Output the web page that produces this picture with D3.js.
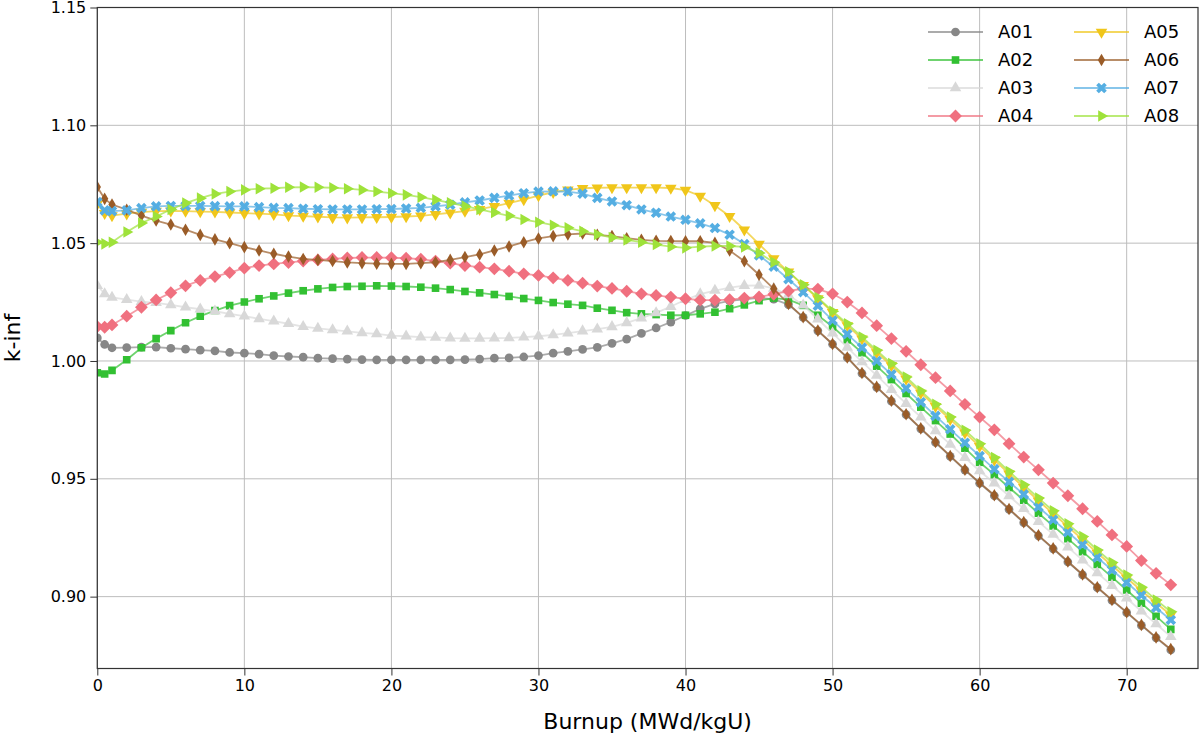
<!DOCTYPE html>
<html lang="en">
<head>
    <meta charset="UTF-8">
    <title>k-inf vs burnup</title>
    <style>
        body { margin: 0; background: #fff; }
        svg { display: block; font-family: 'DejaVu Sans', sans-serif; }
    </style>
</head>
<body>
    <div id="chart-wrapper"></div>

    <script src="https://d3js.org/d3.v7.min.js"></script>
    <script>
        // burnup points (MWd/kgU)
        const burnup = [0, 0.5, 1,
            2, 3, 4, 5, 6, 7, 8, 9, 10, 11,
            12, 13, 14, 15, 16, 17, 18, 19, 20, 21,
            22, 23, 24, 25, 26, 27, 28, 29, 30, 31,
            32, 33, 34, 35, 36, 37, 38, 39, 40, 41,
            42, 43, 44, 45, 46, 47, 48, 49, 50, 51,
            52, 53, 54, 55, 56, 57, 58, 59, 60, 61,
            62, 63, 64, 65, 66, 67, 68, 69, 70, 71,
            72, 73]

        const kA01 = [1.0098, 1.0070, 1.0056,
            1.0057, 1.0059, 1.0059, 1.0054, 1.0050, 1.0046, 1.0043, 1.0036, 1.0033, 1.0029,
            1.0023, 1.0019, 1.0016, 1.0012, 1.0010, 1.0008, 1.0006, 1.0005, 1.0005, 1.0005,
            1.0005, 1.0005, 1.0005, 1.0006, 1.0008, 1.0012, 1.0013, 1.0017, 1.0023, 1.0033,
            1.0041, 1.0049, 1.0058, 1.0075, 1.0093, 1.0117, 1.0140, 1.0165, 1.0193, 1.0221,
            1.0242, 1.0255, 1.0262, 1.0268, 1.0262, 1.0239, 1.0185, 1.0128, 1.0071, 1.0014,
            0.9947, 0.9888, 0.9829, 0.9772, 0.9712, 0.9654, 0.9595, 0.9537, 0.9481, 0.9428,
            0.9370, 0.9314, 0.9258, 0.9203, 0.9147, 0.9092, 0.9038, 0.8984, 0.8932, 0.8878,
            0.8825, 0.8774]

        const kA02 = [0.9950, 0.9945, 0.9960,
            1.0005, 1.0056, 1.0095, 1.0129, 1.0162, 1.0190, 1.0214, 1.0235, 1.0250, 1.0264,
            1.0276, 1.0288, 1.0298, 1.0306, 1.0312, 1.0316, 1.0317, 1.0319, 1.0318, 1.0316,
            1.0313, 1.0309, 1.0303, 1.0295, 1.0289, 1.0282, 1.0274, 1.0265, 1.0257, 1.0248,
            1.0241, 1.0236, 1.0224, 1.0215, 1.0205, 1.0200, 1.0197, 1.0194, 1.0194, 1.0200,
            1.0207, 1.0222, 1.0238, 1.0256, 1.0267, 1.0260, 1.0236, 1.0194, 1.0145, 1.0090,
            1.0035, 0.9978, 0.9921, 0.9862, 0.9804, 0.9747, 0.9690, 0.9630, 0.9570, 0.9518,
            0.9463, 0.9409, 0.9354, 0.9300, 0.9246, 0.9191, 0.9137, 0.9083, 0.9028, 0.8972,
            0.8917, 0.8861]

        const kA03 = [1.0320, 1.0285, 1.0270,
            1.0260, 1.0252, 1.0247, 1.0238, 1.0228, 1.0220, 1.0211, 1.0200, 1.0190, 1.0179,
            1.0169, 1.0158, 1.0146, 1.0138, 1.0132, 1.0126, 1.0119, 1.0115, 1.0108, 1.0105,
            1.0101, 1.0100, 1.0097, 1.0096, 1.0096, 1.0097, 1.0098, 1.0101, 1.0105, 1.0111,
            1.0118, 1.0127, 1.0135, 1.0145, 1.0162, 1.0182, 1.0204, 1.0231, 1.0260, 1.0284,
            1.0299, 1.0311, 1.0320, 1.0321, 1.0308, 1.0280, 1.0237, 1.0177, 1.0118, 1.0058,
            0.9996, 0.9939, 0.9878, 0.9819, 0.9762, 0.9703, 0.9646, 0.9590, 0.9533, 0.9482,
            0.9427, 0.9373, 0.9318, 0.9264, 0.9210, 0.9155, 0.9101, 0.9047, 0.8993, 0.8938,
            0.8884, 0.8830]

        const kA04 = [1.0146, 1.0143, 1.0153,
            1.0190, 1.0228, 1.0259, 1.0290, 1.0319, 1.0342, 1.0358, 1.0375, 1.0394, 1.0405,
            1.0412, 1.0418, 1.0424, 1.0429, 1.0433, 1.0437, 1.0439, 1.0439, 1.0438, 1.0436,
            1.0432, 1.0424, 1.0415, 1.0405, 1.0398, 1.0391, 1.0381, 1.0370, 1.0363, 1.0353,
            1.0342, 1.0330, 1.0318, 1.0308, 1.0296, 1.0285, 1.0278, 1.0271, 1.0264, 1.0258,
            1.0258, 1.0260, 1.0267, 1.0272, 1.0283, 1.0297, 1.0307, 1.0305, 1.0285, 1.0250,
            1.0204, 1.0150, 1.0095, 1.0041, 0.9984, 0.9929, 0.9873, 0.9816, 0.9762, 0.9708,
            0.9649, 0.9592, 0.9538, 0.9482, 0.9428, 0.9373, 0.9319, 0.9262, 0.9213, 0.9153,
            0.9099, 0.9050]

        const kA05 = [1.0667, 1.0627, 1.0617,
            1.0625, 1.0632, 1.0636, 1.0637, 1.0636, 1.0634, 1.0633, 1.0630, 1.0627, 1.0625,
            1.0622, 1.0617, 1.0615, 1.0612, 1.0609, 1.0608, 1.0609, 1.0610, 1.0611, 1.0613,
            1.0616, 1.0622, 1.0629, 1.0636, 1.0644, 1.0656, 1.0670, 1.0685, 1.0702, 1.0716,
            1.0726, 1.0733, 1.0735, 1.0736, 1.0736, 1.0736, 1.0736, 1.0734, 1.0725, 1.0700,
            1.0660, 1.0614, 1.0557, 1.0496, 1.0435, 1.0378, 1.0321, 1.0265, 1.0206, 1.0150,
            1.0094, 1.0036, 0.9980, 0.9923, 0.9864, 0.9807, 0.9752, 0.9695, 0.9638, 0.9580,
            0.9521, 0.9464, 0.9407, 0.9352, 0.9297, 0.9242, 0.9185, 0.9132, 0.9079, 0.9026,
            0.8973, 0.8922]

        const kA06 = [1.0738, 1.0688, 1.0664,
            1.0642, 1.0617, 1.0596, 1.0579, 1.0557, 1.0535, 1.0516, 1.0500, 1.0483, 1.0469,
            1.0455, 1.0443, 1.0433, 1.0429, 1.0424, 1.0418, 1.0415, 1.0413, 1.0412, 1.0412,
            1.0415, 1.0419, 1.0429, 1.0441, 1.0452, 1.0469, 1.0486, 1.0504, 1.0520, 1.0530,
            1.0537, 1.0541, 1.0535, 1.0530, 1.0521, 1.0514, 1.0510, 1.0509, 1.0508, 1.0508,
            1.0501, 1.0469, 1.0423, 1.0366, 1.0306, 1.0242, 1.0186, 1.0129, 1.0072, 1.0015,
            0.9949, 0.9890, 0.9831, 0.9774, 0.9714, 0.9656, 0.9597, 0.9539, 0.9483, 0.9430,
            0.9372, 0.9316, 0.9260, 0.9205, 0.9149, 0.9094, 0.9040, 0.8986, 0.8934, 0.8880,
            0.8827, 0.8777]

        const kA07 = [1.0674, 1.0639, 1.0636,
            1.0639, 1.0649, 1.0656, 1.0658, 1.0658, 1.0658, 1.0657, 1.0656, 1.0656, 1.0653,
            1.0650, 1.0649, 1.0646, 1.0644, 1.0643, 1.0643, 1.0643, 1.0644, 1.0645, 1.0647,
            1.0650, 1.0656, 1.0663, 1.0673, 1.0681, 1.0692, 1.0702, 1.0712, 1.0719, 1.0720,
            1.0719, 1.0710, 1.0692, 1.0677, 1.0661, 1.0643, 1.0629, 1.0613, 1.0599, 1.0584,
            1.0564, 1.0536, 1.0496, 1.0448, 1.0400, 1.0347, 1.0292, 1.0234, 1.0172, 1.0114,
            1.0057, 1.0000, 0.9943, 0.9884, 0.9825, 0.9767, 0.9710, 0.9653, 0.9597, 0.9541,
            0.9487, 0.9434, 0.9380, 0.9326, 0.9273, 0.9220, 0.9166, 0.9113, 0.9060, 0.9006,
            0.8953, 0.8901]

        const kA08 = [1.0504, 1.0497, 1.0504,
            1.0547, 1.0585, 1.0613, 1.0643, 1.0670, 1.0691, 1.0709, 1.0719, 1.0726, 1.0731,
            1.0733, 1.0737, 1.0738, 1.0737, 1.0735, 1.0731, 1.0726, 1.0719, 1.0712, 1.0705,
            1.0695, 1.0684, 1.0671, 1.0657, 1.0643, 1.0630, 1.0616, 1.0600, 1.0589, 1.0576,
            1.0565, 1.0550, 1.0537, 1.0524, 1.0514, 1.0504, 1.0494, 1.0485, 1.0480, 1.0485,
            1.0488, 1.0488, 1.0484, 1.0458, 1.0419, 1.0379, 1.0323, 1.0269, 1.0211, 1.0158,
            1.0102, 1.0045, 0.9989, 0.9932, 0.9873, 0.9816, 0.9762, 0.9706, 0.9649, 0.9590,
            0.9531, 0.9475, 0.9418, 0.9364, 0.9309, 0.9255, 0.9198, 0.9145, 0.9092, 0.9040,
            0.8986, 0.8936]

        const seriesNames = ['A01', 'A02', 'A03', 'A04', 'A05', 'A06', 'A07', 'A08']
        const seriesValues = [kA01, kA02, kA03, kA04, kA05, kA06, kA07, kA08]
        const colors = ['#878787', '#32c032', '#d8d8d8', '#f0707f', '#f0c61a', '#9a5c28', '#55aee2', '#9ee23a']

        const xTicks = [0, 10, 20, 30, 40, 50, 60, 70]
        const yTicks = [0.90, 0.95, 1.00, 1.05, 1.10, 1.15]

        const width = 1200
        const height = 736
        const plot = { left: 97.3, right: 1198, top: 7.5, bottom: 668.5 }

        const svg = d3.select('#chart-wrapper')
            .append('svg')
            .attr('width', width)
            .attr('height', height)

        const x = d3.scaleLinear()
            .domain([0, 74.85])
            .range([plot.left, plot.right])

        const y = d3.scaleLinear()
            .domain([0.8695, 1.15])
            .range([plot.bottom, plot.top])

        // grid
        const grid = svg.append('g')
        grid.selectAll('.gx')
            .data(xTicks)
            .enter()
            .append('line')
            .attr('x1', d => x(d))
            .attr('x2', d => x(d))
            .attr('y1', plot.top)
            .attr('y2', plot.bottom)
            .attr('stroke', '#bdbdbd')
            .attr('stroke-width', 1)
        grid.selectAll('.gy')
            .data(yTicks)
            .enter()
            .append('line')
            .attr('x1', plot.left)
            .attr('x2', plot.right)
            .attr('y1', d => y(d))
            .attr('y2', d => y(d))
            .attr('stroke', '#bdbdbd')
            .attr('stroke-width', 1)

        // marker shapes, roughly matplotlib o s ^ D v d X >
        const shapes = [
            { type: d3.symbolCircle, size: 60, rot: 0 },
            { type: d3.symbolSquare, size: 58, rot: 0 },
            { type: d3.symbolTriangle, size: 58, rot: 0 },
            { type: d3.symbolSquare, size: 82, rot: 45 },
            { type: d3.symbolTriangle, size: 58, rot: 180 },
            { type: d3.symbolDiamond, size: 46, rot: 0 },
            { type: d3.symbolCross, size: 70, rot: 45 },
            { type: d3.symbolTriangle, size: 58, rot: 90 }
        ]

        svg.append('clipPath')
            .attr('id', 'clip')
            .append('rect')
            .attr('x', plot.left)
            .attr('y', plot.top)
            .attr('width', plot.right - plot.left)
            .attr('height', plot.bottom - plot.top)

        const line = d3.line()
            .x(d => x(d[0]))
            .y(d => y(d[1]))

        const marks = svg.append('g').attr('clip-path', 'url(#clip)')

        seriesValues.forEach((vals, i) => {
            const pts = burnup.map((b, j) => [b, vals[j]])
            const g = marks.append('g')
            g.append('path')
                .datum(pts)
                .attr('d', line)
                .attr('fill', 'none')
                .attr('stroke', colors[i])
                .attr('stroke-opacity', 0.7)
                .attr('stroke-width', 1.8)
            g.selectAll('path.m')
                .data(pts)
                .enter()
                .append('path')
                .attr('class', 'm')
                .attr('d', d3.symbol().type(shapes[i].type).size(shapes[i].size))
                .attr('transform', d => `translate(${ x(d[0]) }, ${ y(d[1]) }) rotate(${ shapes[i].rot })`)
                .attr('fill', colors[i])
        })

        // axes
        svg.append('g')
            .attr('transform', `translate(0, ${ plot.bottom })`)
            .call(d3.axisBottom(x).tickValues(xTicks).tickSize(7).tickPadding(4).tickFormat(d3.format('d')))
            .call(g => g.select('.domain').remove())
            .selectAll('text')
            .attr('font-size', 16)
            .attr('font-family', 'DejaVu Sans')
            .attr('fill', '#000')

        svg.append('g')
            .attr('transform', `translate(${ plot.left }, 0)`)
            .call(d3.axisLeft(y).tickValues(yTicks).tickSize(7).tickPadding(4).tickFormat(d3.format('.2f')))
            .call(g => g.select('.domain').remove())
            .selectAll('text')
            .attr('font-size', 16)
            .attr('font-family', 'DejaVu Sans')
            .attr('fill', '#000')

        svg.selectAll('.tick line').attr('stroke', '#333')

        svg.append('rect')
            .attr('x', plot.left)
            .attr('y', plot.top)
            .attr('width', plot.right - plot.left)
            .attr('height', plot.bottom - plot.top)
            .attr('fill', 'none')
            .attr('stroke', '#333')
            .attr('stroke-width', 1.2)

        svg.append('text')
            .attr('x', (plot.left + plot.right) / 2)
            .attr('y', 729)
            .attr('text-anchor', 'middle')
            .attr('font-size', 22)
            .text('Burnup (MWd/kgU)')

        svg.append('text')
            .attr('transform', `translate(20, ${ (plot.top + plot.bottom) / 2 }) rotate(-90)`)
            .attr('text-anchor', 'middle')
            .attr('font-size', 22)
            .text('k-inf')

        // legend, two columns
        const legend = svg.append('g')
        seriesNames.forEach((name, i) => {
            const col = Math.floor(i / 4)
            const row = i % 4
            const lx = 928 + col * 146
            const ly = 32 + row * 28
            legend.append('line')
                .attr('x1', lx)
                .attr('x2', lx + 55)
                .attr('y1', ly)
                .attr('y2', ly)
                .attr('stroke', colors[i])
                .attr('stroke-opacity', 0.7)
                .attr('stroke-width', 1.8)
            legend.append('path')
                .attr('d', d3.symbol().type(shapes[i].type).size(shapes[i].size))
                .attr('transform', `translate(${ lx + 27.5 }, ${ ly }) rotate(${ shapes[i].rot })`)
                .attr('fill', colors[i])
            legend.append('text')
                .attr('x', lx + 70)
                .attr('y', ly)
                .attr('dy', '0.36em')
                .attr('font-size', 18)
                .text(name)
        })
    </script>
</body>
</html>
